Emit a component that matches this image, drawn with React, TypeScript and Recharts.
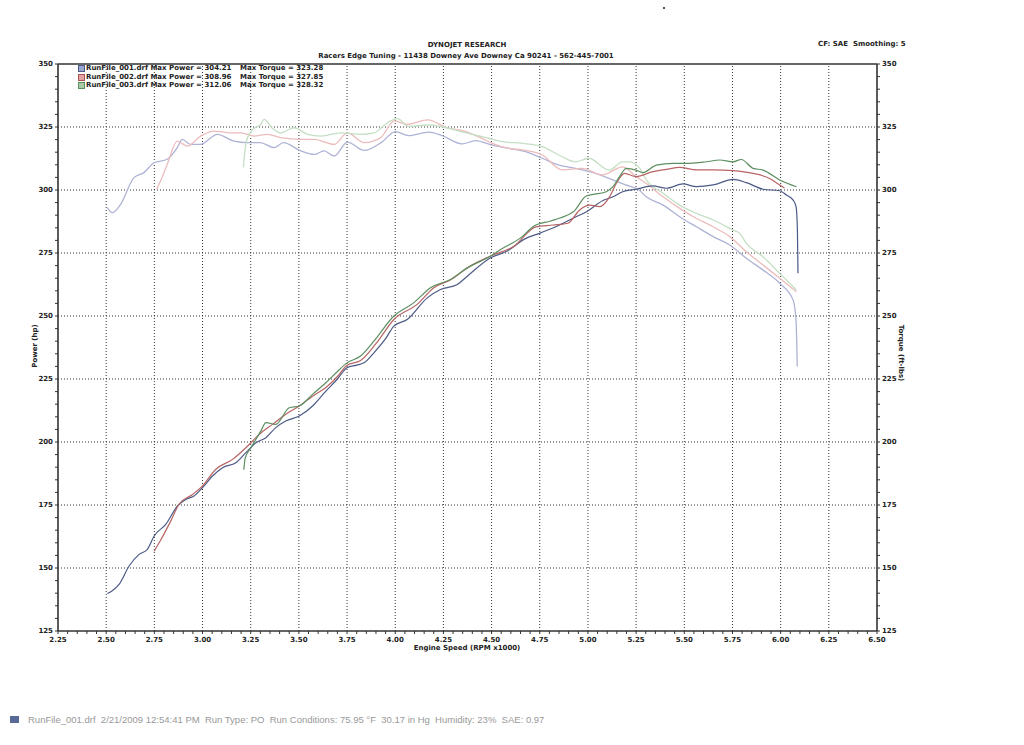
import React from 'react';
import { LineChart, Line, XAxis, YAxis, ReferenceLine } from 'recharts';

const FONT = '"DejaVu Sans", Verdana, sans-serif';

// Axis ticks
const X_MAJOR = [2.25, 2.5, 2.75, 3.0, 3.25, 3.5, 3.75, 4.0, 4.25, 4.5, 4.75, 5.0, 5.25, 5.5, 5.75, 6.0, 6.25, 6.5];
const Y_MAJOR = [125, 150, 175, 200, 225, 250, 275, 300, 325, 350];
const X_GRID = [2.5, 2.75, 3.0, 3.25, 3.5, 3.75, 4.0, 4.25, 4.5, 4.75, 5.0, 5.25, 5.5, 5.75, 6.0, 6.25];
const Y_GRID = [150, 175, 200, 225, 250, 275, 300, 325];

// Legend
const runNames = ['RunFile_001.drf', 'RunFile_002.drf', 'RunFile_003.drf'];
const maxPower = ['304.21', '308.96', '312.06'];
const maxTorque = ['323.28', '327.85', '328.32'];

// Power (hp) [rpm x1000, hp]
const run1Power = [[2.506,139.9],[2.53,140.9],[2.567,143.5],[2.619,150.8],[2.671,155.4],[2.714,157.4],[2.749,162.7],[2.809,167.3],[2.87,174.6],[2.913,177.2],[2.956,178.6],[3.0,181.9],[3.052,186.5],[3.104,189.8],[3.173,191.8],[3.225,195.8],[3.277,199.7],[3.329,201.7],[3.38,205.7],[3.432,208.3],[3.502,210.3],[3.571,214.3],[3.64,220.2],[3.7,225],[3.75,229.5],[3.8,230.5],[3.84,231.5],[3.889,235.4],[3.95,241],[3.993,246],[4.062,248.6],[4.166,257.2],[4.235,260.5],[4.322,262.5],[4.374,265.8],[4.495,273.1],[4.582,275.8],[4.668,280.4],[4.755,283],[4.842,285.7],[4.928,289],[4.997,291.6],[5.078,295.8],[5.13,297.3],[5.18,299.3],[5.25,300.3],[5.337,301.6],[5.407,300.7],[5.493,302.4],[5.563,301.3],[5.65,302],[5.753,304.2],[5.822,302.9],[5.909,300.3],[5.995,299.7],[6.03,298],[6.065,296],[6.08,293.4],[6.087,284],[6.09,267]];
const run2Power = [[2.749,156.7],[2.78,160.7],[2.835,168.6],[2.878,175.3],[2.948,179.2],[2.999,182.5],[3.069,189.2],[3.156,193.1],[3.225,197.7],[3.294,203],[3.363,207],[3.432,211],[3.502,214.3],[3.571,218.2],[3.64,221.6],[3.7,226],[3.75,230.5],[3.82,232.3],[3.9,239],[3.993,248.6],[4.114,254.6],[4.2,261.2],[4.29,264.5],[4.374,269.1],[4.495,273.8],[4.616,277.7],[4.73,285.4],[4.82,286.1],[4.896,286.8],[4.957,292.1],[5.008,294],[5.06,293.4],[5.112,297.3],[5.147,302.6],[5.19,306.6],[5.25,305.3],[5.337,307.3],[5.407,308.2],[5.476,309],[5.563,308],[5.65,308],[5.753,307.7],[5.857,306.6],[5.943,304.6],[5.995,302],[6.02,300.8]];
const run3Power = [[3.214,189],[3.222,193.8],[3.251,197.7],[3.303,204.4],[3.329,207.7],[3.38,207],[3.45,213.6],[3.502,214.3],[3.571,218.9],[3.64,223.5],[3.7,228],[3.75,231.4],[3.82,234.1],[3.889,240],[3.993,250],[4.097,255.3],[4.183,261.2],[4.287,264.5],[4.374,269.1],[4.495,273.8],[4.547,276.4],[4.651,281],[4.72,285.7],[4.807,287.7],[4.859,289],[4.928,291.6],[4.991,297.6],[5.095,299.3],[5.13,301.3],[5.164,305.3],[5.199,308.6],[5.25,307.9],[5.285,306.9],[5.355,309.9],[5.441,310.6],[5.528,310.6],[5.615,311.2],[5.684,311.9],[5.753,311.2],[5.796,312.1],[5.857,308.6],[5.909,307.9],[5.995,304],[6.082,301.3]];

// Torque (ft-lbs) [rpm x1000, ft-lbs]
const run1Torque = [[2.506,293],[2.531,291],[2.575,294.3],[2.644,304.9],[2.696,306.9],[2.748,310.8],[2.817,312.2],[2.869,316.8],[2.895,320.1],[2.938,318.1],[2.99,318.1],[3.077,322.1],[3.163,319.4],[3.233,318.8],[3.3,318.8],[3.371,316.8],[3.42,318.8],[3.51,315.5],[3.579,314.1],[3.63,315.5],[3.683,313.5],[3.752,319],[3.839,315.7],[3.93,319],[4.0,323.2],[4.07,321.6],[4.174,323],[4.243,321.6],[4.347,318.3],[4.417,319.6],[4.503,317.8],[4.59,316.5],[4.676,315.2],[4.763,312.6],[4.85,309.9],[4.936,308.6],[5.04,306.6],[5.11,304.6],[5.196,302],[5.265,300],[5.303,297.3],[5.39,294],[5.476,289.4],[5.563,285.4],[5.65,281.5],[5.736,278.2],[5.822,272.9],[5.909,268.2],[5.995,263],[6.065,256.3],[6.08,248],[6.086,230]];
const run2Torque = [[2.762,300.3],[2.79,305],[2.817,310.2],[2.869,319.4],[2.921,317.4],[2.99,321.4],[3.06,323.4],[3.146,322.7],[3.2,322.7],[3.267,321.4],[3.337,322.1],[3.406,320.8],[3.51,320.1],[3.579,320.1],[3.683,318.1],[3.752,322.7],[3.839,318.8],[3.925,320.8],[3.995,327.4],[4.06,326],[4.168,327.8],[4.27,324.7],[4.358,323.4],[4.45,320.5],[4.503,318.5],[4.59,316.5],[4.66,315.9],[4.763,313.9],[4.867,308],[4.97,308.6],[5.075,306],[5.18,309.2],[5.25,305.3],[5.303,302.6],[5.39,297.3],[5.476,292.7],[5.563,288.7],[5.65,285.4],[5.736,281.5],[5.822,275.5],[5.909,270.2],[5.995,265],[6.082,259.6]];
const run3Torque = [[3.212,309],[3.218,314],[3.226,319],[3.26,324],[3.302,326],[3.32,328],[3.36,324.7],[3.406,322.7],[3.475,324.7],[3.545,322.1],[3.614,321.4],[3.718,322.7],[3.821,322.1],[3.89,322.7],[3.96,326.7],[4.012,328.3],[4.07,325.2],[4.174,325.8],[4.243,325.1],[4.347,323.1],[4.45,321.2],[4.555,319.2],[4.66,318.5],[4.763,317.2],[4.867,313.2],[4.936,311.2],[5.005,312.6],[5.11,307.9],[5.18,311.2],[5.213,311.2],[5.265,309],[5.303,304],[5.39,298.7],[5.476,294],[5.563,290.7],[5.65,288.1],[5.753,284.1],[5.787,282.8],[5.822,278.8],[5.909,273.5],[5.995,266.9],[6.082,260.3]];

const powerColors = ['#4c5a86', '#b86464', '#5c8f60'];
const torqueColors = ['#aeb3d6', '#ecbcbc', '#c4dfc4'];
const legendFill = ['#9aa6d2', '#e3a3a3', '#a8cca8'];
const legendStroke = ['#4c5a86', '#a85454', '#5c8f60'];

const toRows = (pairs: number[][]) => pairs.map(([rpm, v]) => ({ rpm, v }));

const xMinor: number[] = [];
for (let i = 0; i <= 85; i++) xMinor.push(Math.round((2.25 + i * 0.05) * 100) / 100);
const yMinor: number[] = [];
for (let i = 0; i <= 45; i++) yMinor.push(125 + i * 5);

const fmtX = (v: number) => (Math.round(v * 100) % 25 === 0 ? v.toFixed(2) : '');
const fmtY = (v: number) => (Math.round(v) % 25 === 0 ? String(v) : '');

const tickStyle = { fontSize: 7, fontWeight: 'bold', fill: '#222', fontFamily: FONT } as any;
const axisLineStyle = { stroke: '#333', strokeWidth: 1.6 };

const txt: React.CSSProperties = {
  position: 'absolute',
  fontFamily: FONT,
  fontWeight: 'bold',
  fontSize: 7,
  color: '#222',
  whiteSpace: 'nowrap',
  lineHeight: '8px',
};

export default function App() {
  const power = [run1Power, run2Power, run3Power];
  const torque = [run1Torque, run2Torque, run3Torque];
  return (
    <div style={{ position: 'absolute', left: 0, top: 0, width: 1024, height: 745, background: '#fff', overflow: 'hidden' }}>
      <LineChart width={1024} height={745} margin={{ top: 64, right: 97, bottom: 84, left: 0 }}>
        <XAxis
          type="number"
          dataKey="rpm"
          domain={[2.25, 6.5]}
          ticks={xMinor}
          interval={0}
          tickFormatter={fmtX}
          tick={tickStyle}
          tickSize={3}
          tickMargin={3}
          height={30}
          axisLine={axisLineStyle}
          tickLine={{ stroke: '#333' }}
          allowDataOverflow
        />
        <YAxis
          yAxisId="left"
          type="number"
          domain={[125, 350]}
          ticks={yMinor}
          interval={0}
          tickFormatter={fmtY}
          tick={tickStyle}
          tickSize={3}
          tickMargin={2}
          width={58}
          axisLine={axisLineStyle}
          tickLine={{ stroke: '#333' }}
          allowDataOverflow
        />
        <YAxis
          yAxisId="right"
          orientation="right"
          type="number"
          domain={[125, 350]}
          ticks={yMinor}
          interval={0}
          tickFormatter={fmtY}
          tick={tickStyle}
          tickSize={3}
          tickMargin={2}
          width={50}
          axisLine={axisLineStyle}
          tickLine={{ stroke: '#333' }}
          allowDataOverflow
        />
        {X_GRID.map((x) => (
          <ReferenceLine key={'gx' + x} x={x} yAxisId="left" stroke="#333" strokeDasharray="1 2" strokeWidth={1} />
        ))}
        {Y_GRID.map((y) => (
          <ReferenceLine key={'gy' + y} y={y} yAxisId="left" stroke="#333" strokeDasharray="1 2" strokeWidth={1} />
        ))}
        <ReferenceLine y={350} yAxisId="left" stroke="#333" strokeWidth={1.6} />
        {torque.map((s, i) => (
          <Line
            key={'t' + i}
            yAxisId="right"
            data={toRows(s)}
            dataKey="v"
            type="monotone"
            dot={false}
            stroke={torqueColors[i]}
            strokeWidth={1.3}
            isAnimationActive={false}
          />
        ))}
        {power.map((s, i) => (
          <Line
            key={'p' + i}
            yAxisId="left"
            data={toRows(s)}
            dataKey="v"
            type="monotone"
            dot={false}
            stroke={powerColors[i]}
            strokeWidth={1.2}
            isAnimationActive={false}
          />
        ))}
      </LineChart>

      {/* Header */}
      <div style={{ ...txt, left: 467, top: 41, transform: 'translateX(-50%)' }}>DYNOJET RESEARCH</div>
      <div style={{ ...txt, left: 466, top: 52, transform: 'translateX(-50%)' }}>
        Racers Edge Tuning - 11438 Downey Ave Downey Ca 90241 - 562-445-7001
      </div>
      <div style={{ ...txt, left: 818, top: 40 }}>CF: SAE&nbsp;&nbsp;Smoothing: 5</div>

      {/* Legend */}
      {runNames.map((name, i) => (
        <React.Fragment key={name}>
          <div
            style={{
              position: 'absolute',
              left: 78,
              top: 65 + i * 8.5,
              width: 5,
              height: 5,
              background: legendFill[i],
              border: `1px solid ${legendStroke[i]}`,
            }}
          />
          <div style={{ ...txt, left: 86, top: 64 + i * 8.5 }}>
            {name} Max Power = {maxPower[i]}
          </div>
          <div style={{ ...txt, left: 240, top: 64 + i * 8.5 }}>Max Torque = {maxTorque[i]}</div>
        </React.Fragment>
      ))}

      {/* Axis titles */}
      <div style={{ ...txt, left: 467, top: 648, transform: 'translate(-50%, -50%)' }}>Engine Speed (RPM x1000)</div>
      <div style={{ ...txt, left: 35, top: 346, transform: 'translate(-50%, -50%) rotate(-90deg)' }}>Power (hp)</div>
      <div style={{ ...txt, left: 901, top: 353, transform: 'translate(-50%, -50%) rotate(90deg)' }}>Torque (ft-lbs)</div>

      {/* Footer */}
      <div style={{ position: 'absolute', left: 10, top: 716, width: 9, height: 7, background: '#5a6a96' }} />
      <div
        style={{
          position: 'absolute',
          left: 28,
          top: 714,
          whiteSpace: 'nowrap',
          fontFamily: '"Liberation Sans", Arial, sans-serif',
          fontSize: 9.5,
          color: '#999',
          lineHeight: '12px',
        }}
      >
        RunFile_001.drf&nbsp;&nbsp;2/21/2009 12:54:41 PM&nbsp;&nbsp;Run Type: PO&nbsp;&nbsp;Run Conditions: 75.95 °F&nbsp;&nbsp;30.17 in Hg&nbsp;&nbsp;Humidity: 23%&nbsp;&nbsp;SAE: 0.97
      </div>
      <div style={{ position: 'absolute', left: 663, top: 7, width: 2, height: 2, background: '#555' }} />
    </div>
  );
}
